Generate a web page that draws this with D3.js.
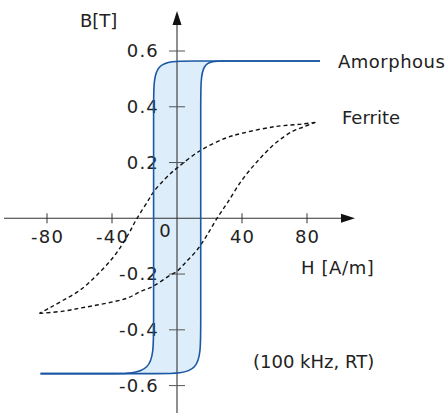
<!DOCTYPE html>
<html>
<head>
<meta charset="utf-8">
<script src="https://cdn.jsdelivr.net/npm/d3@7"></script>
<style>
  body { margin: 0; background: white; }
  text { font-family: "DejaVu Sans", sans-serif; font-size: 18px; fill: #222; }
  .num { letter-spacing: 1.2px; }
</style>
</head>
<body>
<div id="chart"></div>
<script>
// DATA
var xTicks = [-80, -40, 40, 80];
var yTicks = [0.6, 0.4, 0.2, -0.2, -0.4, -0.6];
var yTickLabels = ["0.6", "0.4", "0.2", "-0.2", "-0.4", "-0.6"];

// amorphous loop, ascending branch (bottom -> top)
var amoUpH = [-84, -60, -9, 14.6, 14.6, 14.6, 14.6, 14.6, 28, 55, 88];
var amoUpB = [-0.557, -0.557, -0.557, -0.557, -0.41, 0, 0.43, 0.564, 0.564, 0.564, 0.564];
// amorphous loop, descending branch (top -> bottom)
var amoDownH = [88, 50, 7, -14.4, -14.4, -14.4, -14.4, -14.4, -40, -60, -84];
var amoDownB = [0.564, 0.564, 0.564, 0.564, 0.43, 0, -0.41, -0.557, -0.557, -0.557, -0.557];

// ferrite loop, ascending branch
var ferUpH = [-84.6, -70, -59.5, -50, -39, -30, -22.6, -14.4, -4, 0, 5, 12.3, 18, 24.6, 30.8, 40, 50.2, 60.5, 70.8, 78, 85.1];
var ferUpB = [-0.341, -0.333, -0.322, -0.312, -0.299, -0.285, -0.263, -0.243, -0.203, -0.19, -0.16, -0.114, -0.065, 0, 0.054, 0.137, 0.209, 0.269, 0.311, 0.328, 0.344];
// ferrite loop, descending branch
var ferDownH = [85.1, 76.9, 60.5, 40, 29.7, 14.3, 1, -5, -14.4, -17.5, -24.6, -30.8, -39, -49.2, -59.5, -69.8, -78, -84.6];
var ferDownB = [0.344, 0.338, 0.329, 0.305, 0.287, 0.243, 0.185, 0.155, 0.095, 0.066, 0, -0.066, -0.138, -0.203, -0.257, -0.293, -0.32, -0.341];

var width = 448, height = 415;
var svg = d3.select("#chart").append("svg")
            .attr("width", width)
            .attr("height", height);

var x = d3.scaleLinear().domain([-80, 80]).range([47, 307]);
var y = d3.scaleLinear().domain([-0.6, 0.6]).range([385.6, 51]);

var pts = function(hs, bs) { return hs.map(function(h, i) { return [h, bs[i]]; }); };

var amoUp = pts(amoUpH, amoUpB);
var amoDown = pts(amoDownH, amoDownB);
var ferUp = pts(ferUpH, ferUpB);
var ferDown = pts(ferDownH, ferDownB);

var basisLine = d3.line().x(function(d) { return x(d[0]); }).y(function(d) { return y(d[1]); }).curve(d3.curveBasis);
var smoothLine = d3.line().x(function(d) { return x(d[0]); }).y(function(d) { return y(d[1]); }).curve(d3.curveCatmullRom.alpha(0.5));

// AMORPHOUS FILL
svg.append("path")
   .attr("d", basisLine(amoUp) + basisLine(amoDown).replace(/^M/, "L") + "Z")
   .style("fill", "#ddedfa")
   .style("stroke", "none");

// AXES
var axisColor = "#333";
var x0 = x(0), y0 = y(0);
svg.append("line").attr("x1", 4).attr("x2", 345).attr("y1", y0).attr("y2", y0).style("stroke", axisColor).style("stroke-width", 1.1);
svg.append("path").attr("d", "M355," + y0 + "L341," + (y0 - 4.5) + "L341," + (y0 + 4.5) + "Z").style("fill", "#111");
svg.append("line").attr("x1", x0).attr("x2", x0).attr("y1", 22).attr("y2", 413).style("stroke", axisColor).style("stroke-width", 1.1);
svg.append("path").attr("d", "M" + x0 + ",11L" + (x0 - 4.5) + ",25L" + (x0 + 4.5) + ",25Z").style("fill", "#111");

// x ticks
svg.selectAll(".xtick").data(xTicks).enter().append("line")
   .attr("x1", function(d) { return x(d); }).attr("x2", function(d) { return x(d); })
   .attr("y1", y0 - 5).attr("y2", y0 + 5)
   .style("stroke", axisColor).style("stroke-width", 1);
svg.selectAll(".xlabel").data(xTicks).enter().append("text")
   .attr("class", "num")
   .attr("x", function(d) { return x(d) + 0.6; })
   .attr("y", y0 + 25)
   .style("text-anchor", "middle")
   .text(function(d) { return d; });
svg.append("text").attr("x", x0 - 12).attr("y", y0 + 18.5).style("text-anchor", "middle").text("0");

// y ticks
svg.selectAll(".ytick").data(yTicks).enter().append("line")
   .attr("x1", x0 - 8).attr("x2", x0 + 8)
   .attr("y1", function(d) { return y(d); }).attr("y2", function(d) { return y(d); })
   .style("stroke", "#555").style("stroke-width", 1);
svg.selectAll(".ylabel").data(yTicks).enter().append("text")
   .attr("class", "num")
   .attr("x", x0 - 18)
   .attr("y", function(d) { return y(d) + 6; })
   .style("text-anchor", "end")
   .text(function(d, i) { return yTickLabels[i]; });

// FERRITE
[ferUp, ferDown].forEach(function(branch) {
  svg.append("path")
     .attr("d", smoothLine(branch))
     .style("fill", "none")
     .style("stroke", "#111")
     .style("stroke-width", 1.4)
     .style("stroke-dasharray", "4,3");
});

// AMORPHOUS
[amoUp, amoDown].forEach(function(branch) {
  svg.append("path")
     .attr("d", basisLine(branch))
     .style("fill", "none")
     .style("stroke", "#1b57a3")
     .style("stroke-width", 1.6);
});

// LABELS
svg.append("text").attr("x", 80).attr("y", 27).text("B[T]");
svg.append("text").attr("x", 338).attr("y", 68).style("letter-spacing", "0.5px").text("Amorphous");
svg.append("text").attr("x", 342).attr("y", 124).text("Ferrite");
svg.append("text").attr("x", 301).attr("y", 274).style("letter-spacing", "0.6px").text("H [A/m]");
svg.append("text").attr("x", 253).attr("y", 368).text("(100 kHz, RT)");
</script>
</body>
</html>
